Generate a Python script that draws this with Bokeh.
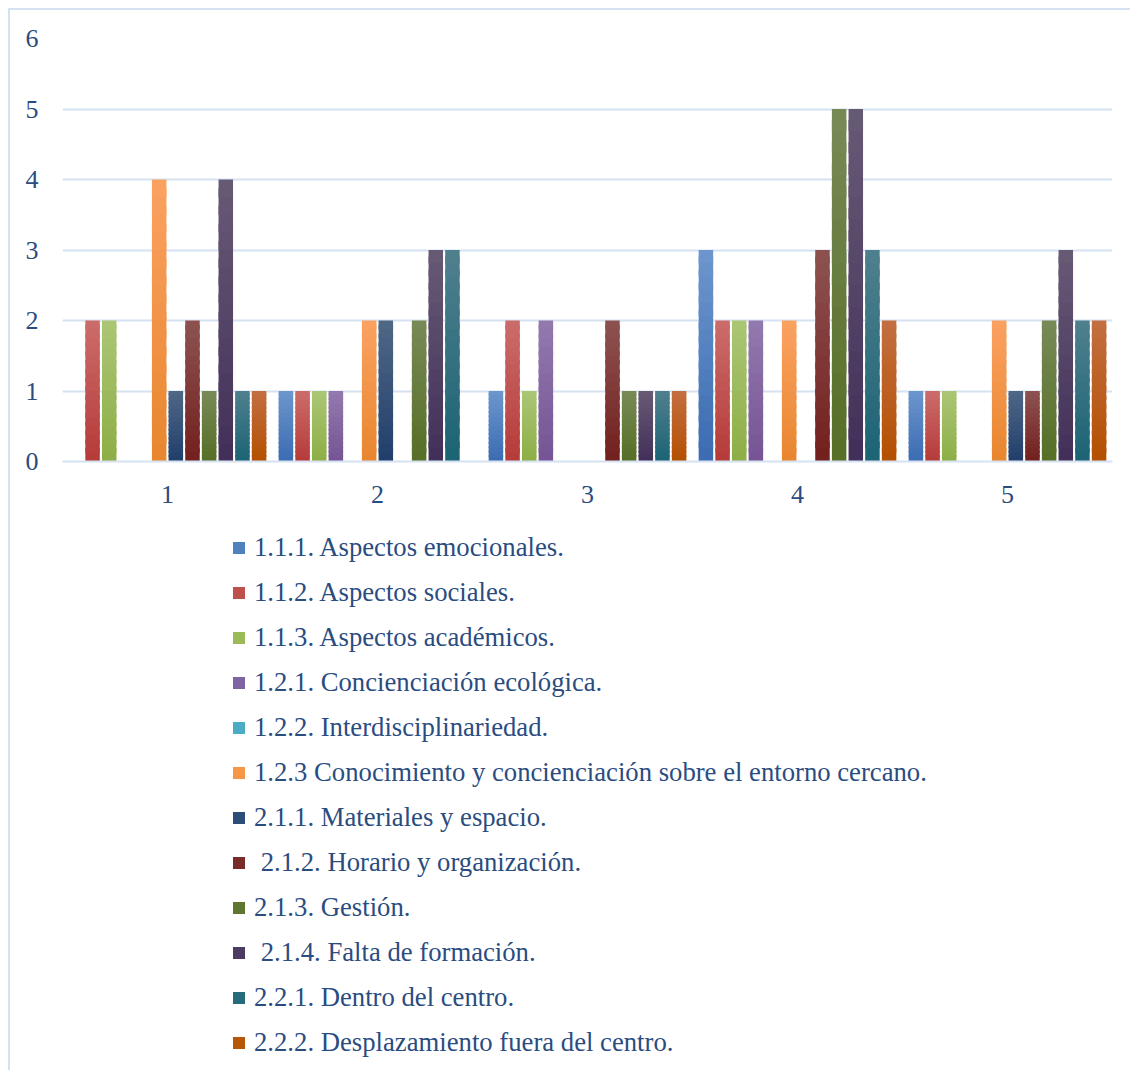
from bokeh.plotting import figure
from bokeh.layouts import column
from bokeh.models import ColumnDataSource, Legend, LegendItem, FixedTicker, Range1d
from bokeh.embed import file_html
from bokeh.resources import INLINE

groups = [1, 2, 3, 4, 5]
tick_labels = ["1", "2", "3", "4", "5"]
series_names = [
    "1.1.1. Aspectos emocionales.",
    "1.1.2. Aspectos sociales.",
    "1.1.3. Aspectos académicos.",
    "1.2.1. Concienciación ecológica.",
    "1.2.2. Interdisciplinariedad.",
    "1.2.3 Conocimiento y concienciación sobre el entorno cercano.",
    "2.1.1. Materiales y espacio.",
    " 2.1.2. Horario y organización.",
    "2.1.3. Gestión.",
    " 2.1.4. Falta de formación.",
    "2.2.1. Dentro del centro.",
    "2.2.2. Desplazamiento fuera del centro.",
]
v111 = [0, 1, 1, 3, 1]
v112 = [2, 1, 2, 2, 1]
v113 = [2, 1, 1, 2, 1]
v121 = [0, 1, 2, 2, 0]
v122 = [0, 0, 0, 0, 0]
v123 = [4, 2, 0, 2, 2]
v211 = [1, 2, 0, 0, 1]
v212 = [2, 0, 2, 3, 1]
v213 = [1, 2, 1, 5, 2]
v214 = [4, 3, 1, 5, 3]
v221 = [1, 3, 1, 3, 2]
v222 = [1, 0, 1, 2, 2]
series_values = [v111, v112, v113, v121, v122, v123, v211, v212, v213, v214, v221, v222]

# (top colour, mid colour, bottom colour)
palette = [
    ("#6D96CD", "#4F81BD", "#3A6BB1"),
    ("#CB6D6B", "#C0504D", "#B53A38"),
    ("#ABC676", "#9BBB59", "#8DAE45"),
    ("#937AAE", "#8064A2", "#755394"),
    ("#6CBFD6", "#4BACC6", "#2F98B4"),
    ("#FBA262", "#F79646", "#E8862E"),
    ("#506886", "#2C4D75", "#203E6B"),
    ("#8D5351", "#772C2A", "#721F1D"),
    ("#788A57", "#5F7530", "#566E25"),
    ("#675A75", "#4D3B62", "#422F59"),
    ("#50808E", "#276A7C", "#1B6374"),
    ("#C36F42", "#B65708", "#B44F00"),
]
TEXT = "#2A4C7F"
GRID = "#D6E2F2"
BORDER = "2px solid #D5E2F2"
FONT = "Liberation Serif"

n_series = len(series_names)
slot = 0.0793
bar_w = 0.069
N = 16


def hex2rgb(h):
    h = h.lstrip("#")
    return [int(h[i:i + 2], 16) for i in (0, 2, 4)]


def lerp(c1, c2, t):
    a, b = hex2rgb(c1), hex2rgb(c2)
    return "#%02x%02x%02x" % tuple(int(round(a[i] + (b[i] - a[i]) * t)) for i in range(3))


# ---- chart ----
p = figure(width=1122, height=520, output_backend="svg", toolbar_location=None,
           x_range=Range1d(0.5, 5.5), y_range=Range1d(0, 6),
           min_border_left=52, min_border_right=20, min_border_top=28,
           min_border_bottom=69)
p.styles = {"border-top": BORDER, "border-left": BORDER}
p.outline_line_color = None
p.background_fill_color = "white"
p.border_fill_color = "white"

for i, (vals, cols) in enumerate(zip(series_values, palette)):
    off = (i - (n_series - 1) / 2) * slot
    xs = [g + off for g, v in zip(groups, vals) if v > 0]
    tops = [v for v in vals if v > 0]
    sx, sb, st, sc = [], [], [], []
    for x, v in zip(xs, tops):
        for k in range(N):
            t = (k + 0.5) / N
            sx.append(x)
            sb.append(v * k / N)
            st.append(min(v, v * (k + 1.5) / N))
            sc.append(lerp(cols[2], cols[0], t))
    src = ColumnDataSource(dict(x=sx, bottom=sb, top=st, color=sc))
    p.vbar(x="x", top="top", bottom="bottom", width=bar_w, source=src,
           fill_color="color", line_color=None)

p.xgrid.visible = False
p.ygrid.ticker = FixedTicker(ticks=[0, 1, 2, 3, 4, 5, 6])
p.ygrid.grid_line_color = GRID
p.ygrid.grid_line_width = 2

p.yaxis.ticker = FixedTicker(ticks=[0, 1, 2, 3, 4, 5, 6])
p.yaxis.axis_line_color = None
p.yaxis.major_tick_line_color = None
p.yaxis.minor_tick_line_color = None
p.yaxis.major_label_standoff = 18
p.yaxis.major_label_text_font = FONT
p.yaxis.major_label_text_font_size = "26px"
p.yaxis.major_label_text_color = TEXT

p.xaxis.ticker = FixedTicker(ticks=groups)
p.xaxis.major_label_overrides = {g: t for g, t in zip(groups, tick_labels)}
p.xaxis.axis_line_color = GRID
p.xaxis.axis_line_width = 2
p.xaxis.major_tick_line_color = None
p.xaxis.minor_tick_line_color = None
p.xaxis.major_label_standoff = 18
p.xaxis.major_label_text_font = FONT
p.xaxis.major_label_text_font_size = "26px"
p.xaxis.major_label_text_color = TEXT

# ---- legend panel (its renderers have zero area, so nothing shows) ----
q = figure(width=1122, height=542, output_backend="svg", toolbar_location=None,
           x_range=Range1d(0.5, 5.5), y_range=Range1d(0, 6),
           x_axis_type=None, y_axis_type=None,
           min_border_left=0, min_border_right=0, min_border_top=0,
           min_border_bottom=0)
q.styles = {"border-left": BORDER}
q.outline_line_color = None
q.grid.visible = False
q.background_fill_color = "white"
q.border_fill_color = "white"

items = []
for name, vals, cols in zip(series_names, series_values, palette):
    r = q.vbar(x=groups, top=vals, bottom=vals, width=0,
               fill_color=cols[1], line_color=None)
    items.append(LegendItem(label=name, renderers=[r]))

legend = Legend(items=items, location=(169, 12), orientation="vertical",
                label_text_font=FONT, label_text_font_size="26.7px",
                label_text_color=TEXT, glyph_width=15, glyph_height=15,
                label_height=31, spacing=14, label_standoff=8,
                padding=0, margin=0, border_line_alpha=0,
                background_fill_alpha=0)
q.add_layout(legend, "center")

layout = column(p, q, spacing=0)
layout.styles = {"margin-left": "8px", "margin-top": "8px"}

open("out.html", "w").write(file_html(layout, INLINE))
